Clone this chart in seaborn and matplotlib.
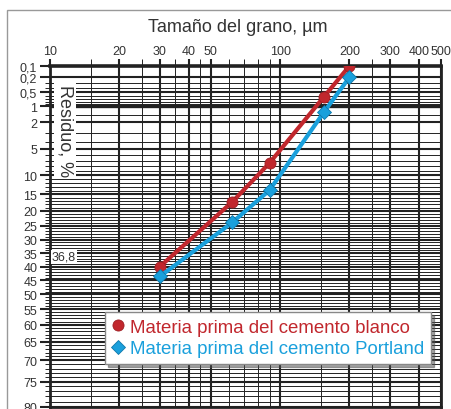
import numpy as np
import matplotlib
matplotlib.use("Agg")
import matplotlib.pyplot as plt
import seaborn as sns
from matplotlib.lines import Line2D
from matplotlib.patches import Rectangle

# datos (tamaño en µm, residuo en %)
tamano_blanco = [30, 62, 90, 155, 200]
residuo_blanco = [40.0, 17.2, 7.4, 0.63, 0.1]
tamano_portland = [30, 62, 90, 155, 200]
residuo_portland = [43.6, 23.9, 13.8, 1.3, 0.21]

serie_blanco = "Materia prima del cemento blanco"
serie_portland = "Materia prima del cemento Portland"

# rejilla RRSB
x_mayores = [10, 20, 30, 40, 50, 100, 200, 300, 400, 500]
x_menores = [15, 25, 35, 45, 60, 70, 80, 90, 150, 250]
y_mayores = [0.1, 0.2, 0.5, 1, 2, 5, 10, 15, 20, 25, 30, 35, 40, 45, 50,
             55, 60, 65, 70, 75, 80]
y_etiquetas = ["0,1", "0,2", "0,5", "1", "2", "5", "10", "15", "20", "25",
               "30", "35", "40", "45", "50", "55", "60", "65", "70", "75", "80"]
y_menores = [0.3, 0.4, 0.6, 0.7, 0.8, 0.9, 1.5, 3, 4, 6, 7, 8, 9] + \
    [v for v in range(11, 80) if v % 5 != 0]

ROJO = "#C1272D"
AZUL = "#1AA0DC"
NEGRO = "#222222"
TEXTO = "#333333"

sns.set_style("white")
plt.rcParams["font.family"] = ["Liberation Sans", "DejaVu Sans"]


def rrsb(r):
    r = np.asarray(r, dtype=float)
    with np.errstate(all="ignore"):
        return -np.log10(np.log(100.0 / r))


def rrsb_inv(y):
    y = np.asarray(y, dtype=float)
    with np.errstate(all="ignore"):
        return 100.0 * np.exp(-np.power(10.0, -y))


fig = plt.figure(figsize=(4.52, 4.10), dpi=100)
ax = fig.add_axes([50 / 452, 2 / 410, 391 / 452, 341 / 410])
ax.set_xscale("log")
ax.set_yscale("function", functions=(rrsb, rrsb_inv))

sns.lineplot(x=tamano_blanco, y=residuo_blanco, ax=ax, color=ROJO, lw=3,
             marker="o", markersize=8, markerfacecolor=ROJO,
             markeredgecolor="#9E1F25", markeredgewidth=0.6,
             errorbar=None, sort=False, zorder=5)
sns.lineplot(x=tamano_portland, y=residuo_portland, ax=ax, color=AZUL, lw=3,
             marker="D", markersize=7, markerfacecolor=AZUL,
             markeredgecolor="#0F78AA", markeredgewidth=0.6,
             errorbar=None, sort=False, zorder=5)

ax.set_xlim(10, 500)
ax.set_ylim(80, 0.1)

ax.set_xticks(x_mayores)
ax.set_xticklabels([str(v) for v in x_mayores])
ax.set_xticks(x_menores, minor=True)
ax.set_xticklabels([], minor=True)
ax.set_yticks(y_mayores)
ax.set_yticklabels(y_etiquetas)
ax.set_yticks(y_menores, minor=True)
ax.set_yticklabels([], minor=True)

ax.grid(True, which="major", color=NEGRO, lw=1.5)
ax.grid(True, which="minor", color=NEGRO, lw=0.7)
ax.axhline(1, color=NEGRO, lw=2.4, zorder=2)
ax.set_axisbelow(True)

ax.xaxis.tick_top()
ax.tick_params(axis="x", which="major", top=True, bottom=False, labeltop=True,
               labelbottom=False, length=5, width=1.5, color=NEGRO,
               labelsize=9, labelcolor=TEXTO, pad=1.5)
ax.tick_params(axis="x", which="minor", top=True, bottom=False, length=5,
               width=0.7, color=NEGRO)
ax.tick_params(axis="y", which="major", left=True, length=7.2, width=1.5,
               color=NEGRO, labelsize=9, labelcolor=TEXTO, pad=2)
ax.tick_params(axis="y", which="minor", left=True, length=3.6, width=0.7,
               color=NEGRO)
for lado in ["top", "bottom", "left", "right"]:
    ax.spines[lado].set_visible(True)
    ax.spines[lado].set_color(NEGRO)
    ax.spines[lado].set_linewidth(2.0)
ax.spines["top"].set_linewidth(2.6)
ax.set_xlabel("")
ax.set_ylabel("")

# textos
fig.text(238 / 452, 1 - 28 / 410, "Tamaño del grano, µm", ha="center",
         va="center", fontsize=13, color=TEXTO)
fig.text(65 / 452, 1 - 131 / 410, "Residuo, %", ha="center", va="center",
         rotation=270, fontsize=13, color=TEXTO,
         bbox=dict(facecolor="white", edgecolor="none", pad=1.5))
fig.text(64 / 452, 1 - 258 / 410, "36,8", ha="center", va="center",
         fontsize=9, color=TEXTO,
         bbox=dict(facecolor="white", edgecolor="none", pad=0.8))

# leyenda
manejadores = [
    Line2D([], [], ls="none", marker="o", markersize=8, markerfacecolor=ROJO,
           markeredgecolor="#9E1F25", markeredgewidth=0.6),
    Line2D([], [], ls="none", marker="D", markersize=7, markerfacecolor=AZUL,
           markeredgecolor="#0F78AA", markeredgewidth=0.6),
]
leg = fig.legend(manejadores, [serie_blanco, serie_portland],
                 loc="upper left", bbox_to_anchor=(105 / 452, 1 - 313 / 410),
                 fontsize=13.4, frameon=True, fancybox=False, shadow=True,
                 handlelength=0.7, handletextpad=0.3, borderpad=0.35,
                 labelspacing=0.25, borderaxespad=0)
leg.get_frame().set_edgecolor("#888888")
leg.get_frame().set_linewidth(1.0)
leg.get_texts()[0].set_color(ROJO)
leg.get_texts()[1].set_color(AZUL)

# marco gris exterior
fig.patches.append(Rectangle((7 / 452, -0.05), 1.1, 1 - 11 / 410 + 0.05,
                             transform=fig.transFigure, fill=False,
                             edgecolor="#999999", lw=1.0))

fig.savefig("out.png", dpi=100)
